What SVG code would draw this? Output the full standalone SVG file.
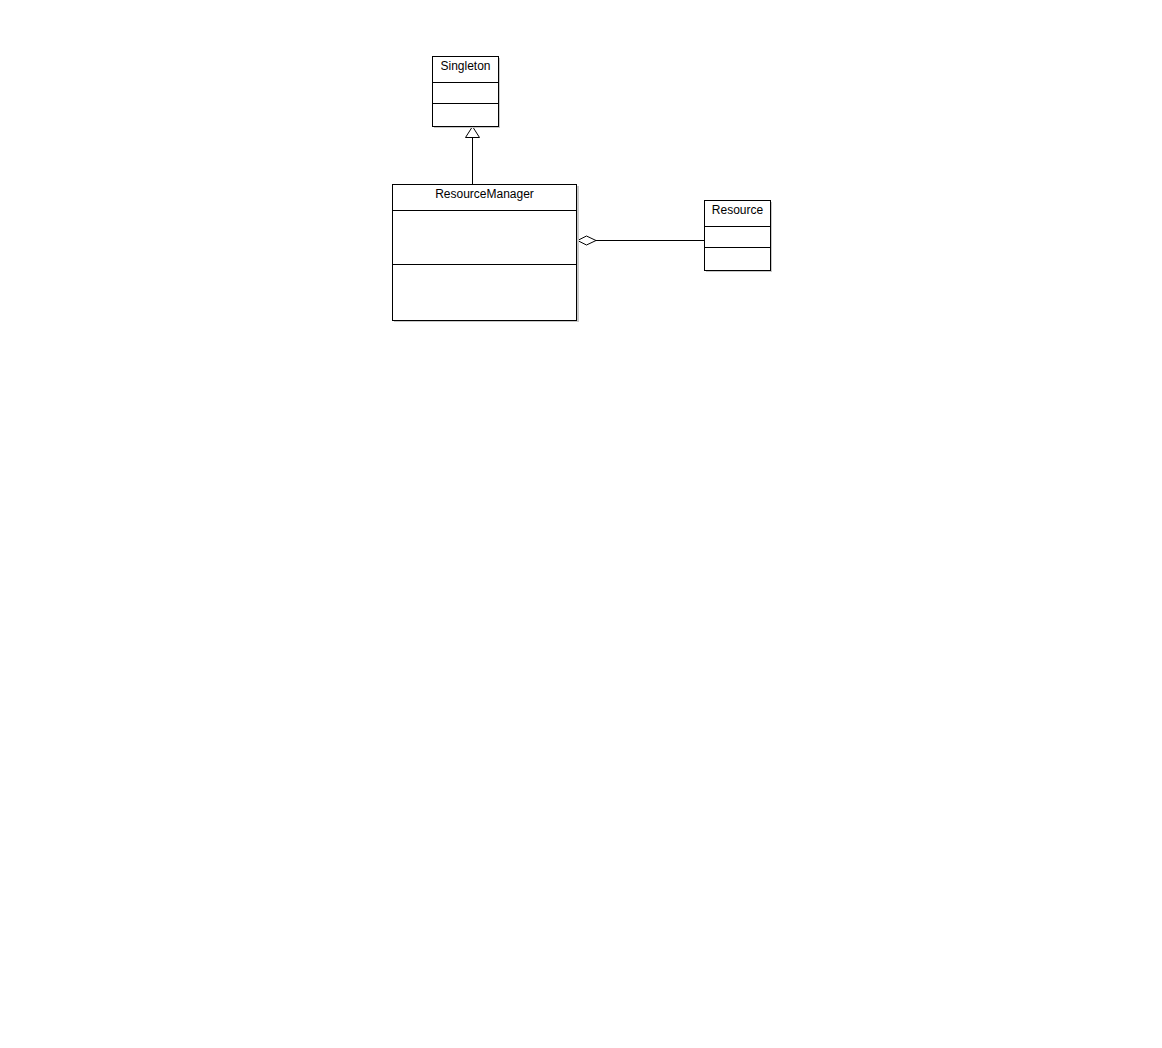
<svg xmlns="http://www.w3.org/2000/svg" width="1162" height="1048" viewBox="0 0 1162 1048">
<defs>
<style>
.box{fill:#fff;stroke:#000;stroke-width:1}
.ln{stroke:#000;stroke-width:1;fill:none}
.sh{fill:#c8c8c8}
.t{font-family:"Liberation Sans",Arial,sans-serif;font-size:12px;fill:#000;text-anchor:middle}
</style>
</defs>
<rect width="1162" height="1048" fill="#fff"/>
<g id="connectors">
<line class="ln" x1="472.5" y1="138" x2="472.5" y2="184.5"/>
<polygon class="box" points="472.5,126.5 465.5,137.5 479.5,137.5"/>
<line class="ln" x1="596" y1="240.5" x2="704.5" y2="240.5"/>
<polygon class="box" points="577.5,240.5 586.5,236 596,240.5 586.5,245"/>
</g>
<g id="singleton">
<rect class="sh" x="434" y="58" width="66" height="70"/>
<rect class="box" x="432.5" y="56.5" width="66" height="70"/>
<line class="ln" x1="432.5" y1="82.5" x2="498.5" y2="82.5"/>
<line class="ln" x1="432.5" y1="103.5" x2="498.5" y2="103.5"/>
<text class="t" x="465.5" y="70">Singleton</text>
</g>
<g id="resourcemanager">
<rect class="sh" x="394" y="186" width="185" height="136"/>
<rect class="box" x="392.5" y="184.5" width="184" height="136"/>
<line class="ln" x1="392.5" y1="210.5" x2="576.5" y2="210.5"/>
<line class="ln" x1="392.5" y1="264.5" x2="576.5" y2="264.5"/>
<text class="t" x="484.5" y="198">ResourceManager</text>
</g>
<g id="resource">
<rect class="sh" x="706" y="202" width="66" height="70"/>
<rect class="box" x="704.5" y="200.5" width="66" height="70"/>
<line class="ln" x1="704.5" y1="226.5" x2="770.5" y2="226.5"/>
<line class="ln" x1="704.5" y1="247.5" x2="770.5" y2="247.5"/>
<text class="t" x="737.5" y="214">Resource</text>
</g>
</svg>
